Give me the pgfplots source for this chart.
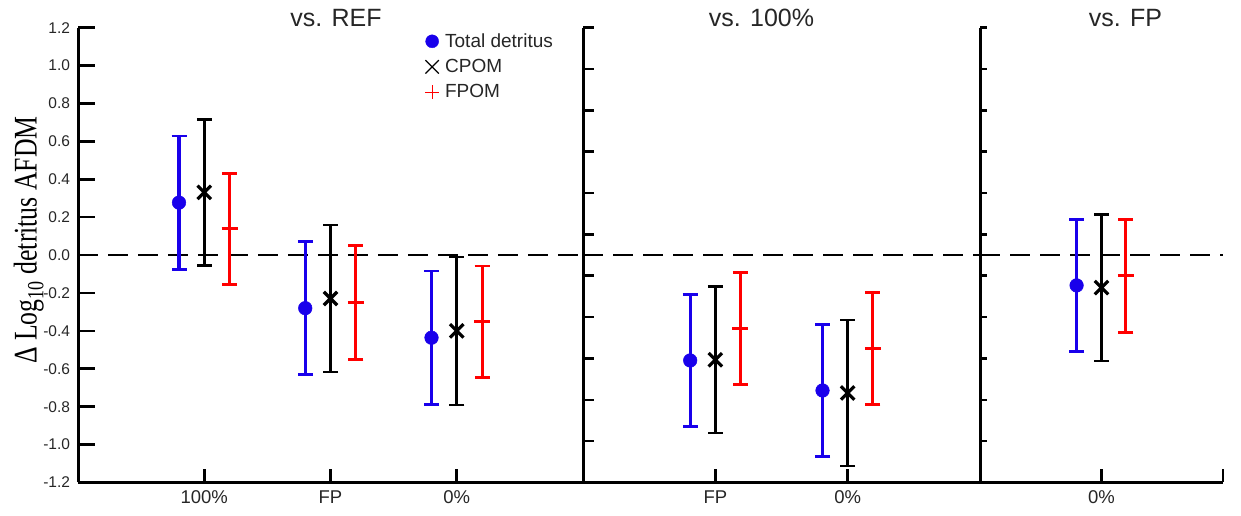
\documentclass[border=0pt]{standalone}
\usepackage{fontspec}
\setmainfont{Liberation Sans}
\newfontfamily\seriffont{Liberation Serif}
\usepackage{graphicx}
\usepackage{pgfplots}
\pgfplotsset{compat=1.18}
\definecolor{myblue}{RGB}{25,0,235}
\definecolor{myred}{RGB}{255,0,0}
\tikzset{ttl/.style={anchor=base, font=\fontsize{25}{25}\selectfont, text=black!85, yshift=1pt}}
\pgfplotsset{
 panel/.style={
  scale only axis, clip=false,
  height=454.8pt,
  ymin=-1.2, ymax=1.2, xmin=0,
  axis x line*=bottom, axis y line*=left,
  axis line style={line width=3pt, black},
  tick align=inside,
  major tick length=17pt,
  ytick style={line width=2.6pt, black},
  xtick style={line width=2.6pt, black, /pgfplots/major tick length=13pt},
  x tick label style={font=\fontsize{18.5}{18.5}\selectfont, yshift=-5pt, text=black!85},
  y tick label style={font=\fontsize{15.5}{15.5}\selectfont, xshift=-4.5pt, text=black!85},
 },
 zeroline/.style={forget plot, black, line width=2.6pt, dash pattern=on 20pt off 10pt},
 blueser/.style={forget plot, only marks, color=myblue, mark=*, mark size=6.8pt,
   mark options={solid, fill=myblue, draw=myblue, line width=0.5pt},
   error bars/.cd, y dir=both, y explicit,
   error bar style={line width=3.2pt, myblue},
   error mark options={myblue, line width=2.8pt, mark size=7.5pt, rotate=90}},
 blackser/.style={forget plot, only marks, color=black, mark=x, mark size=9.5pt,
   mark options={solid, line width=3.2pt},
   error bars/.cd, y dir=both, y explicit,
   error bar style={line width=2.8pt, black},
   error mark options={black, line width=2.6pt, mark size=7.5pt, rotate=90}},
 redser/.style={forget plot, only marks, color=myred, mark=+, mark size=8pt,
   mark options={solid, draw=myred, line width=3pt},
   error bars/.cd, y dir=both, y explicit,
   error bar style={line width=3pt, myred},
   error mark options={myred, line width=2.8pt, mark size=7.5pt, rotate=90}},
}
\begin{document}
\begin{tikzpicture}
\path[use as bounding box] (0pt,0pt) rectangle (1241pt,516pt);
% Panel 1: vs. REF
\begin{axis}[panel, at={(78pt,33.5pt)}, width=505pt, xmax=4,
  xtick={1,2,3,4}, xticklabels={100\%,FP,0\%,{}},
  ytick={-1.2,-1.0,-0.8,-0.6,-0.4,-0.2,0,0.2,0.4,0.6,0.8,1.0,1.2},
  yticklabels={-1.2,-1.0,-0.8,-0.6,-0.4,-0.2,0.0,0.2,0.4,0.6,0.8,1.0,1.2},
  legend image code/.code={\draw[#1] plot coordinates {(0pt,0pt)};},
  legend style={at={(axis cs:2.748,1.18)}, anchor=north west, draw=none, fill=none,
    inner sep=0pt, font=\fontsize{19}{19}\selectfont, text=black!85, row sep=6.5pt,
    /tikz/every odd column/.append style={column sep=4pt}},
  legend cell align=left]
\addlegendimage{only marks, mark=*, myblue, mark size=6.5pt}
\addlegendimage{only marks, mark=x, black, mark size=9.5pt, line width=1.2pt}
\addlegendimage{only marks, mark=+, myred, mark size=7pt, line width=1.2pt}
\addlegendentry{Total detritus}
\addlegendentry{CPOM}
\addlegendentry{FPOM}
\addplot[zeroline] coordinates {(0,0) (4,0)};
\addplot[blueser] coordinates {(0.8,0.277) +- (0,0.351) (1.8,-0.280) +- (0,0.350) (2.8,-0.436) +- (0,0.352)};
\addplot[blackser] coordinates {(1,0.331) +- (0,0.385) (2,-0.229) +- (0,0.387) (3,-0.400) +- (0,0.390)};
\addplot[redser] coordinates {(1.2,0.138) +- (0,0.293) (2.2,-0.250) +- (0,0.299) (3.2,-0.353) +- (0,0.295)};
\node[ttl] at (rel axis cs:0.511,1) {vs. REF};
\node[rotate=90, anchor=base, font=\seriffont\fontsize{33}{33}\selectfont] at (rel axis cs:-0.0818,0.533)
  {\scalebox{0.78}[1]{Δ Log\textsubscript{10} detritus AFDM}};
\end{axis}
% Panel 2: vs. 100%
\begin{axis}[panel, at={(583pt,33.5pt)}, width=397pt, xmax=3,
  major tick length=11pt,
  xtick={1,2,3}, xticklabels={FP,0\%,{}},
  ytick={-1.2,-0.98182,-0.76364,-0.54545,-0.32727,-0.10909,0.10909,0.32727,0.54545,0.76364,0.98182,1.2},
  yticklabels={}]
\addplot[zeroline] coordinates {(0,0) (3,0)};
\addplot[blueser] coordinates {(0.81,-0.556) +- (0,0.350) (1.81,-0.7145) +- (0,0.350)};
\addplot[blackser] coordinates {(1,-0.5525) +- (0,0.386) (2,-0.7275) +- (0,0.385)};
\addplot[redser] coordinates {(1.19,-0.388) +- (0,0.295) (2.19,-0.4935) +- (0,0.2945)};
\node[ttl] at (rel axis cs:0.4496,1) {vs. 100\%};
\end{axis}
% Panel 3: vs. FP
\begin{axis}[panel, at={(980pt,33.5pt)}, width=243pt, xmax=2,
  major tick length=7pt,
  xtick={1,2}, xticklabels={0\%,{}},
  ytick={-1.2,-0.98182,-0.76364,-0.54545,-0.32727,-0.10909,0.10909,0.32727,0.54545,0.76364,0.98182,1.2},
  yticklabels={}]
\addplot[zeroline] coordinates {(0,0) (2,0)};
\addplot[blueser] coordinates {(0.795,-0.160) +- (0,0.3475)};
\addplot[blackser] coordinates {(1,-0.1715) +- (0,0.3865)};
\addplot[redser] coordinates {(1.2,-0.110) +- (0,0.298)};
\node[ttl] at (rel axis cs:0.599,1) {vs. FP};
\end{axis}
\end{tikzpicture}
\end{document}
